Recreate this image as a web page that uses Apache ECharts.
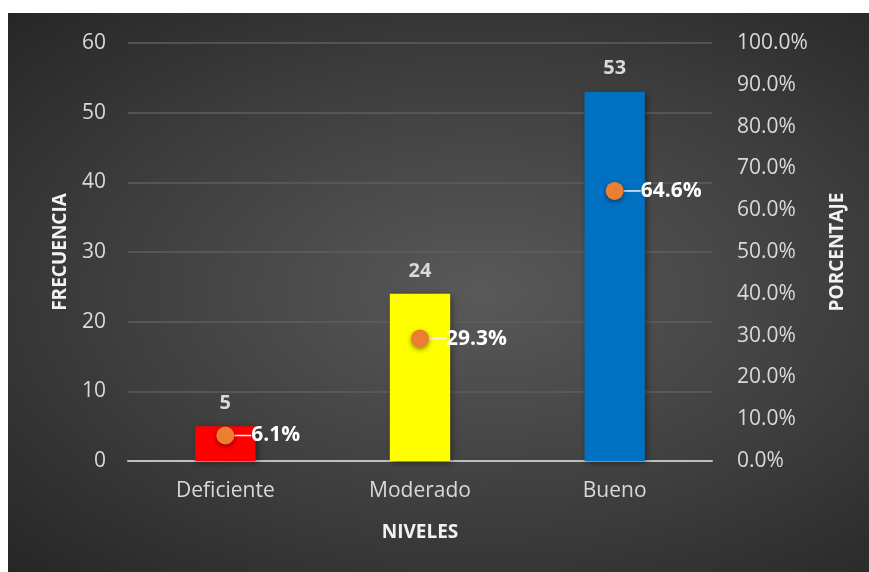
<!DOCTYPE html>
<html>
<head>
<meta charset="utf-8">
<script src="https://cdn.jsdelivr.net/npm/echarts@6/dist/echarts.min.js"></script>
<style>
  html, body { margin: 0; padding: 0; background: #fff; }
  #chart {
    position: absolute; left: 8px; top: 13px; width: 861px; height: 559px;
    background: radial-gradient(ellipse at 55% 50%, #595959 0%, #3e3e3e 55%, #262626 100%);
  }
</style>
</head>
<body>
<div id="chart"></div>
<script>
    var niveles = ['Deficiente', 'Moderado', 'Bueno'];
    var frecuencia = [5, 24, 53];
    var porcentaje = [6.1, 29.3, 64.6];
    var barColors = ['#ff0000', '#ffff00', '#0070c0'];

    var chart = echarts.init(document.getElementById('chart'));
    var font = 'Open Sans';

    chart.setOption({
        animation: false,
        grid: { left: 120, right: 157, top: 30, bottom: 111 },
        xAxis: {
            type: 'category',
            data: niveles,
            name: 'NIVELES',
            nameLocation: 'middle',
            nameGap: 62,
            nameTextStyle: { color: '#f2f2f2', fontWeight: 'bold', fontSize: 19, fontFamily: font },
            axisLine: { lineStyle: { color: '#bfbfbf', width: 2 } },
            axisTick: { show: false },
            axisLabel: { color: '#d9d9d9', fontSize: 21, fontFamily: font, margin: 20 }
        },
        yAxis: [{
            type: 'value',
            min: 0, max: 60, interval: 10,
            name: 'FRECUENCIA',
            nameLocation: 'middle',
            nameGap: 58,
            nameRotate: 90,
            nameTextStyle: { color: '#f2f2f2', fontWeight: 'bold', fontSize: 19, fontFamily: font },
            axisLabel: { color: '#d9d9d9', fontSize: 21, fontFamily: font, margin: 22 },
            splitLine: { lineStyle: { color: '#5e5e5e', width: 1.5 } }
        }, {
            type: 'value',
            min: 0, max: 100, interval: 10,
            name: 'PORCENTAJE',
            nameLocation: 'middle',
            nameGap: 116,
            nameRotate: 90,
            nameTextStyle: { color: '#f2f2f2', fontWeight: 'bold', fontSize: 19, fontFamily: font },
            axisLabel: {
                color: '#d9d9d9', fontSize: 21, fontFamily: font, margin: 25,
                formatter: function (v) { return v.toFixed(1) + '%'; }
            },
            splitLine: { show: false }
        }],
        series: [{
            type: 'bar',
            barWidth: '31%',
            data: frecuencia.map(function (v, i) {
                return { value: v, itemStyle: { color: barColors[i] } };
            }),
            itemStyle: { shadowColor: 'rgba(0,0,0,0.4)', shadowBlur: 6, shadowOffsetX: 2, shadowOffsetY: 2 },
            label: {
                show: true, position: 'top', distance: 13,
                color: '#d9d9d9', fontWeight: 'bold', fontSize: 20, fontFamily: font
            }
        }, {
            type: 'scatter',
            yAxisIndex: 1,
            symbolSize: 18,
            data: porcentaje,
            itemStyle: { color: '#ed7d31', opacity: 1, shadowColor: 'rgba(0,0,0,0.45)', shadowBlur: 5, shadowOffsetY: 2 },
            label: {
                show: true, position: 'right', distance: 2,
                color: '#ffffff', fontWeight: 'bold', fontSize: 21, fontFamily: font,
                formatter: function (p) { return p.value.toFixed(1) + '%'; }
            },
            labelLayout: { dx: 15 },
            labelLine: { show: true, lineStyle: { color: '#f2f2f2', width: 1.5 } }
        }]
    });
</script>
</body>
</html>
